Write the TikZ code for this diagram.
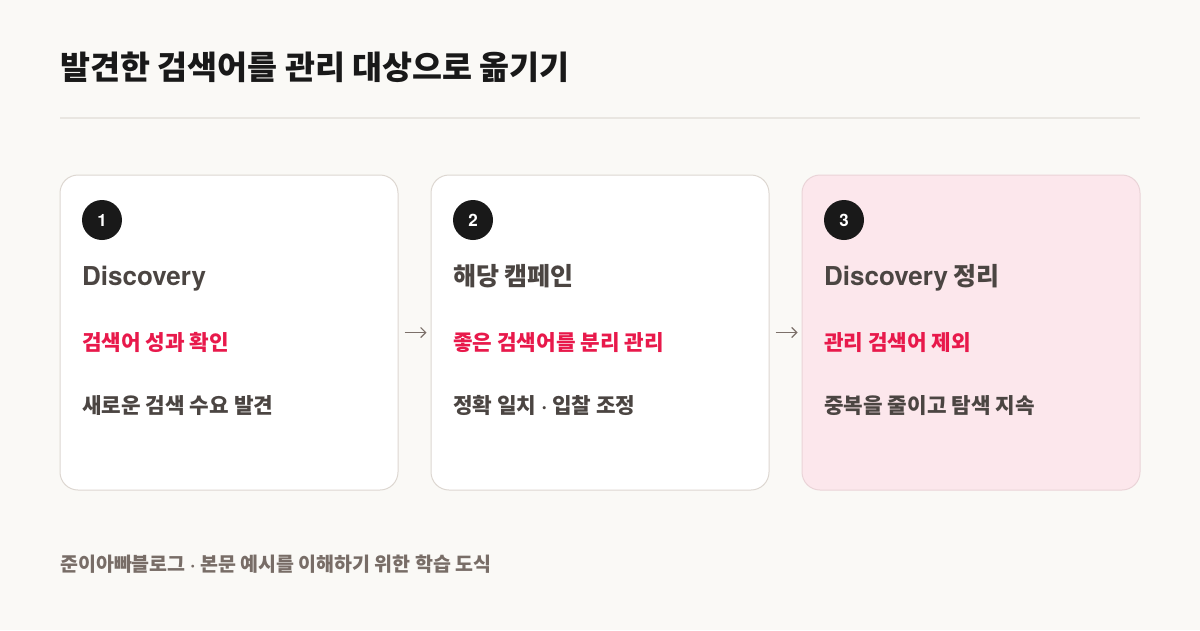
\documentclass[tikz,border=0pt]{standalone}
\usepackage{fontspec}
\setmainfont{Noto Sans CJK KR}
\newfontface\latbold{texgyreheros-bold}[Extension=.otf]
\usetikzlibrary{arrows.meta,positioning}

\definecolor{bg}{HTML}{FAF9F6}
\definecolor{ink}{HTML}{191919}
\definecolor{rule}{HTML}{E9E6E1}
\definecolor{cardline}{HTML}{DDD7D1}
\definecolor{pinkfill}{HTML}{FCE7EC}
\definecolor{pinkline}{HTML}{EAD4D8}
\definecolor{head}{HTML}{4B4542}
\definecolor{hot}{HTML}{E8194B}
\definecolor{note}{HTML}{786D67}
\definecolor{arrowc}{HTML}{7C706A}

\newcommand{\lat}[1]{{\latbold #1}}

\begin{document}
\begin{tikzpicture}[x=1pt,y=-1pt,
    card/.style={draw=cardline,line width=1pt,fill=white,rounded corners=18pt,
                 minimum width=338pt,minimum height=315pt,inner sep=0pt},
    badge/.style={circle,fill=ink,minimum size=40pt,inner sep=0pt,
                  text=white,font=\latbold\fontsize{17}{17}\selectfont},
    stitle/.style={anchor=base west,inner sep=0pt,text=head,
                   font=\bfseries\fontsize{25}{25}\selectfont},
    shot/.style={anchor=base west,inner sep=0pt,text=hot,
                 font=\bfseries\fontsize{21.3}{21.3}\selectfont},
    sdesc/.style={anchor=base west,inner sep=0pt,text=head,
                  font=\bfseries\fontsize{21.3}{21.3}\selectfont},
    flow/.style={draw=arrowc,line width=1.2pt,-{Straight Barb[length=5pt,width=10pt]},
                 shorten <=6pt,shorten >=4pt}]
  \useasboundingbox[fill=bg] (0,0) rectangle (1200,630);

  % title and rule
  \node[anchor=base west,inner sep=0pt,text=ink,font=\bfseries\fontsize{32.6}{32.6}\selectfont]
       (title) at (60,79) {발견한 검색어를 관리 대상으로 옮기기};
  \coordinate (ruleL) at (60,118);
  \coordinate (ruleR) at (1140,118);
  \draw[rule,line width=1.5pt] (ruleL) -- (ruleR);

  % cards
  \node[card] (card1) at (229,332.5) {};
  \node[card] (card2) at (600,332.5) {};
  \node[card,fill=pinkfill,draw=pinkline] (card3) at (971,332.5) {};

  % step 1
  \node[badge] (num1) at (102,220) {1};
  \node[stitle] (head1) at (82,285) {\lat{\fontsize{26}{26}\selectfont Discovery}};
  \node[shot]   (hot1)  at (82,350) {검색어 성과 확인};
  \node[sdesc]  (desc1) at (82,413) {새로운 검색 수요 발견};

  % step 2
  \node[badge] (num2) at (473,220) {2};
  \node[stitle] (head2) at (453,285) {해당 캠페인};
  \node[shot]   (hot2)  at (453,350) {좋은 검색어를 분리 관리};
  \node[sdesc]  (desc2) at (453,413) {정확 일치 \lat{·} 입찰 조정};

  % step 3
  \node[badge] (num3) at (844,220) {3};
  \node[stitle] (head3) at (824,285) {\lat{\fontsize{26}{26}\selectfont Discovery} 정리};
  \node[shot]   (hot3)  at (824,350) {관리 검색어 제외};
  \node[sdesc]  (desc3) at (824,413) {중복을 줄이고 탐색 지속};

  % arrows between cards
  \draw[flow] (card1) -- (card2);
  \draw[flow] (card2) -- (card3);

  % footer
  \node[anchor=base west,inner sep=0pt,text=note,font=\bfseries\fontsize{19.5}{19.5}\selectfont]
       (foot) at (60,571) {준이아빠블로그 \lat{·} 본문 예시를 이해하기 위한 학습 도식};
\end{tikzpicture}
\end{document}
